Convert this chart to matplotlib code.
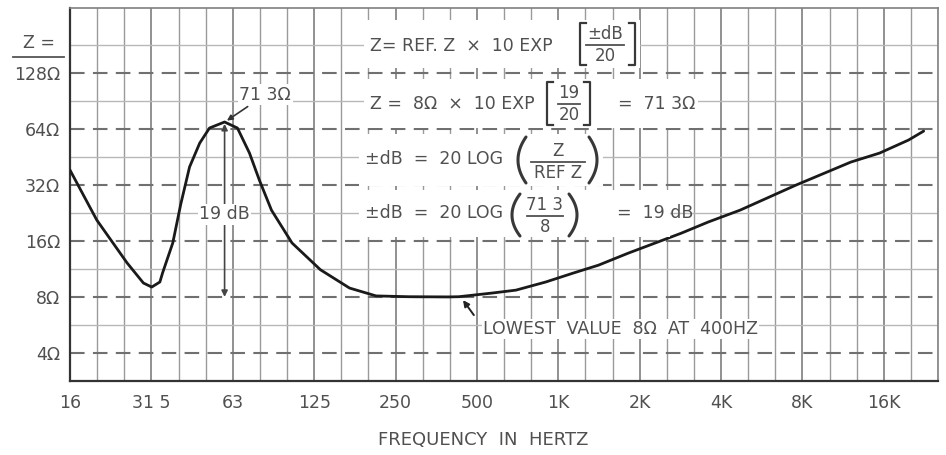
import matplotlib
matplotlib.use("Agg")
import numpy as np
import matplotlib.pyplot as plt
from matplotlib.lines import Line2D
from matplotlib.patches import Rectangle

# impedance curve
freq_hz = [16, 20.1, 26.0, 29.9, 32.1, 34.4, 35.2, 38.4, 41.1, 44.3, 48.3,
           52.5, 59.7, 66.6, 73.8, 80.3, 89.0, 106, 135, 173, 217, 287,
           400, 439, 582, 714, 920, 1167, 1443, 1862, 2343, 2921, 3673,
           4820, 7760, 12380, 15820, 20250, 23020]
impedance_ohm = [38.4, 20.7, 12.2, 9.5, 9.04, 9.62, 10.76, 15.6, 25.2, 39.9,
                 53.6, 64.6, 69.6, 64.6, 47.4, 33.9, 23.4, 15.6, 11.2, 8.93,
                 8.1, 8.02, 8.0, 8.02, 8.39, 8.7, 9.62, 10.76, 11.85, 13.76,
                 15.6, 17.6, 20.2, 23.4, 31.9, 42.4, 47.4, 55.7, 62.2]

x_labels = ["16", "31 5", "63", "125", "250", "500", "1K", "2K", "4K", "8K", "16K"]
y_labels = ["4Ω", "8Ω", "16Ω", "32Ω", "64Ω", "128Ω"]

ref_ohm = 8

TXT = "#505050"
INK = "#383838"
plt.rcParams["font.family"] = ["DejaVu Sans"]

W, H = 946, 455
fig = plt.figure(figsize=(W / 100, H / 100), dpi=100)
ax = fig.add_axes([70 / W, 1 - 381 / H, 868 / W, 373 / H])
ax.set_xscale("log")
ax.set_yscale("log")
ax.set_xlim(16, 16 * 2 ** (10 + 2 / 3))
ax.set_ylim(2 * 2 ** 0.5, 285)


def px(x, y):
    # pixel position in the picture -> figure fraction
    return x / W, 1 - y / H


def fig_line(xs, ys, **kw):
    fig.add_artist(Line2D([x / W for x in xs], [1 - y / H for y in ys],
                          transform=fig.transFigure, zorder=3, **kw))


def fig_text(x, y, s, size=12.5, **kw):
    kw.setdefault("ha", "left")
    fig.text(*px(x, y), s, fontsize=size, color=TXT, va="center", zorder=3, **kw)


def fraction(xc, y_line, num, den, half_w):
    fig_text(xc, y_line - 11, num, 12, ha="center")
    fig_text(xc, y_line + 11, den, 12, ha="center")
    fig_line([xc - half_w, xc + half_w], [y_line, y_line], color=TXT, lw=1.3)


def square_brackets(x0, x1, y0, y1):
    fig_line([x0 + 6, x0, x0, x0 + 6], [y0, y0, y1, y1], color=INK, lw=1.6)
    fig_line([x1 - 6, x1, x1, x1 - 6], [y0, y0, y1, y1], color=INK, lw=1.6)


def parens(x0, x1, y0, y1, bulge=8):
    t = np.linspace(-1, 1, 25)
    ys = (y0 + y1) / 2 + t * (y1 - y0) / 2
    fig_line(x0 + bulge * t ** 2, ys, color=INK, lw=2.2, solid_capstyle="round")
    fig_line(x1 - bulge * t ** 2, ys, color=INK, lw=2.2, solid_capstyle="round")


# chart paper grid
x_major = [16 * 2 ** k for k in range(len(x_labels))]
x_minor = [16 * 2 ** (k / 3) for k in range(33) if k % 3]
y_major = [4 * 2 ** k for k in range(len(y_labels))]
y_minor = [4 * 2 ** (k + 0.5) for k in range(-1, 6)]
for xv in x_minor:
    ax.axvline(xv, color="#9a9a9a", lw=1.0, zorder=1)
for xv in x_major:
    ax.axvline(xv, color="#888888", lw=1.3, zorder=1)
for yv in y_minor:
    ax.axhline(yv, color="#b8b8b8", lw=1.0, zorder=1)
for yv in y_major:
    ax.axhline(yv, color="#707070", lw=1.5, ls=(0, (7, 4)), zorder=1)

ax.set_xticks(x_major)
ax.set_xticklabels(x_labels)
ax.set_yticks(y_major)
ax.set_yticklabels(y_labels)
ax.minorticks_off()
ax.tick_params(length=0, labelsize=12.5, labelcolor=TXT)
ax.tick_params(axis="x", pad=9)
ax.tick_params(axis="y", pad=7)
for s in ax.spines.values():
    s.set_color("#808080")
    s.set_linewidth(1.2)
ax.spines["left"].set_color("#333333")
ax.spines["bottom"].set_color("#333333")
ax.spines["left"].set_linewidth(1.6)
ax.spines["bottom"].set_linewidth(1.6)

ax.plot(freq_hz, impedance_ohm, color="#1a1a1a", lw=2.0, zorder=5,
        solid_joinstyle="round", solid_capstyle="round")

# formula block: white bands behind the lettering
for x0, y0, x1, y1 in [(364, 20, 640, 68), (364, 79, 698, 128),
                       (359, 134, 603, 186), (359, 190, 670, 237)]:
    fig.add_artist(Rectangle(px(x0, y1), (x1 - x0) / W, (y1 - y0) / H,
                             transform=fig.transFigure, facecolor="white",
                             edgecolor="none", zorder=2))

fig_text(370, 46, "Z= REF. Z  ×  10 EXP")
square_brackets(580, 635, 23, 65)
fraction(605, 45, "±dB", "20", 19)

fig_text(370, 104, "Z =  8Ω  ×  10 EXP")
square_brackets(547, 590, 82, 125)
fraction(569, 104, "19", "20", 11)
fig_text(618, 104, "=  71 3Ω")

fig_text(365, 159, "±dB  =  20 LOG")
parens(518, 597, 137, 183)
fraction(558, 162, "Z", "REF Z", 27)

fig_text(365, 213, "±dB  =  20 LOG")
parens(512, 577, 194, 236)
fraction(545, 216, "71 3", "8", 18)
fig_text(617, 213, "=  19 dB")

# peak annotation
ax.annotate("71 3Ω", xy=(60.9, 70.8), xytext=(84.5, 97.6), fontsize=12.5,
            color=TXT, ha="center", va="center", zorder=6,
            bbox=dict(facecolor="white", edgecolor="none", pad=1),
            arrowprops=dict(arrowstyle="-|>", color="#333333", lw=1.2,
                            shrinkA=2, shrinkB=0, mutation_scale=8))
ax.annotate("", xy=(59.7, 68), xytext=(59.7, 24), zorder=4,
            arrowprops=dict(arrowstyle="-|>", color="#444444", lw=1.2,
                            shrinkA=0, shrinkB=0, mutation_scale=9))
ax.annotate("", xy=(59.7, ref_ohm), xytext=(59.7, 20), zorder=4,
            arrowprops=dict(arrowstyle="-|>", color="#444444", lw=1.2,
                            shrinkA=0, shrinkB=0, mutation_scale=9))
ax.text(59.7, 22.2, "19 dB", fontsize=12.5, color=TXT, ha="center",
        va="center", bbox=dict(facecolor="white", edgecolor="none", pad=1),
        zorder=6)

# lowest value annotation
ax.annotate("", xy=(455, 7.69), xytext=(499, 6.39), zorder=6,
            arrowprops=dict(arrowstyle="-|>", color="#222222", lw=1.4,
                            shrinkA=0, shrinkB=0, mutation_scale=9))
ax.text(539, 5.38, "LOWEST  VALUE  8Ω  AT  400HZ", fontsize=12.5, color=TXT,
        va="center", bbox=dict(facecolor="white", edgecolor="none", pad=1),
        zorder=6)

# axis titles
fig.text(*px(483, 440), "FREQUENCY  IN  HERTZ", fontsize=13,
         color=TXT, ha="center", va="center")
fig.text(*px(39, 43), "Z =", fontsize=12.5, color=TXT,
         ha="center", va="center")
fig.add_artist(Line2D([13 / W, 64 / W], [1 - 57 / H, 1 - 57 / H],
                      color="#555555", lw=1.3))

fig.savefig("out.png", dpi=100)
